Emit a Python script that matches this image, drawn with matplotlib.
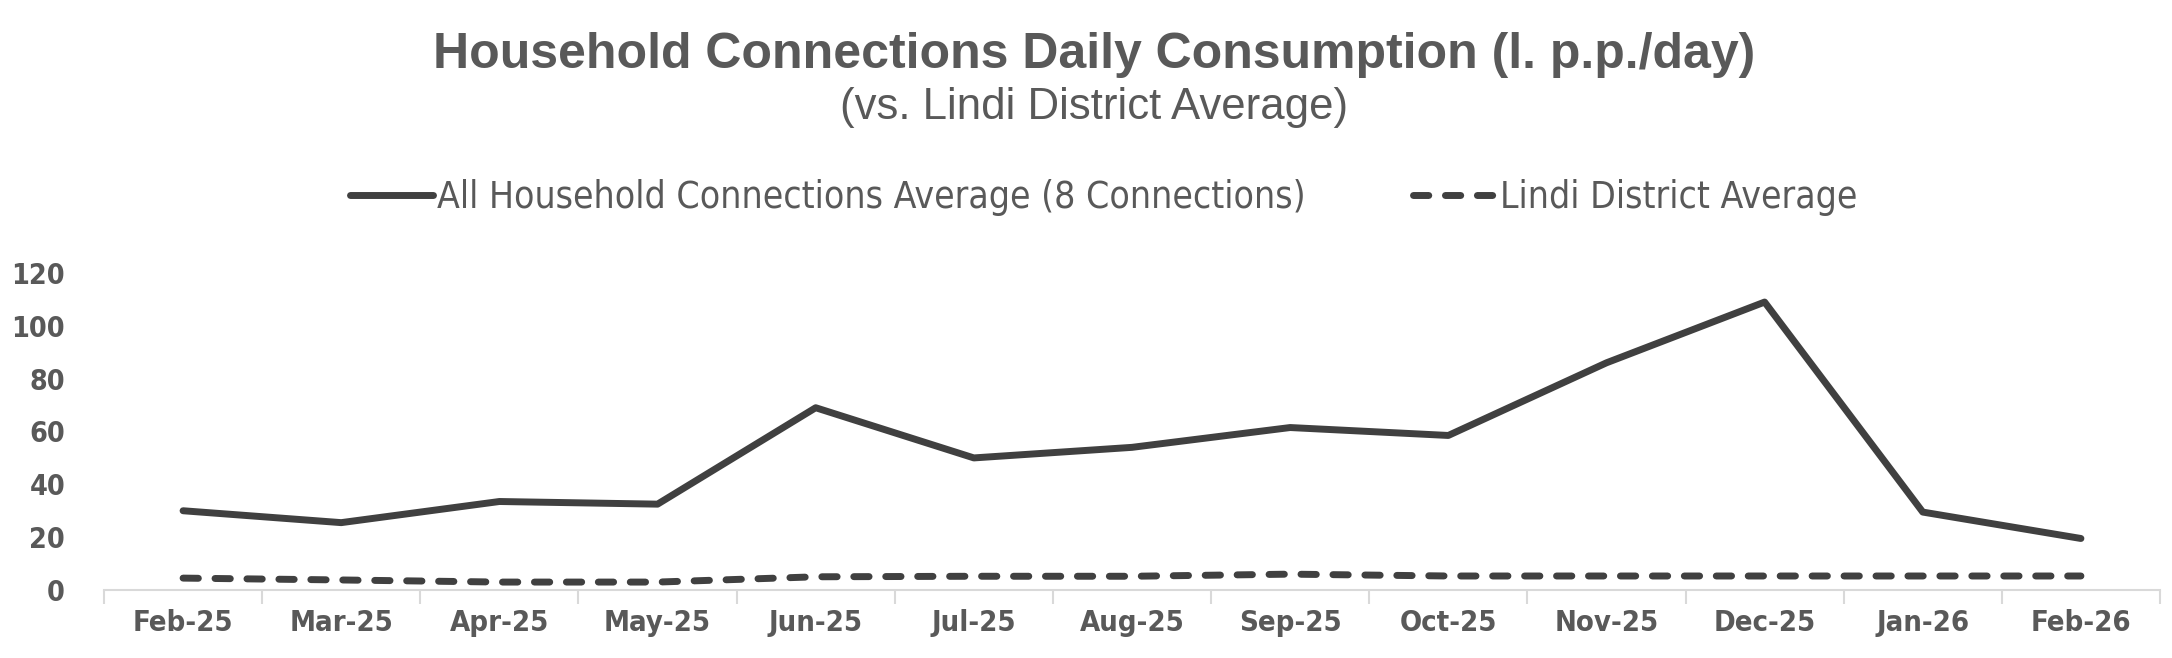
import matplotlib
matplotlib.use("Agg")
import matplotlib.pyplot as plt
from matplotlib import font_manager as fm

months = ["Feb-25", "Mar-25", "Apr-25", "May-25", "Jun-25", "Jul-25", "Aug-25",
          "Sep-25", "Oct-25", "Nov-25", "Dec-25", "Jan-26", "Feb-26"]
household_avg = [30, 25.5, 33.5, 32.5, 69, 50, 54, 61.5, 58.5, 86, 109, 29.5, 19.5]
lindi_avg = [4.5, 3.8, 3.0, 3.0, 5.0, 5.2, 5.2, 6.0, 5.3, 5.3, 5.3, 5.3, 5.3]
yticks = [0, 20, 40, 60, 80, 100, 120]


def find_font(keys, bold):
    for key in keys:
        for f in fm.fontManager.ttflist:
            fn = f.fname.lower()
            if key in fn and ("italic" not in fn and "oblique" not in fn):
                isb = "bold" in fn
                if isb == bold:
                    return f.fname
    return None


nb = find_font(["liberationsansnarrow", "sansnarrow", "opensans_condensed", "condensed"], True)
nr = find_font(["liberationsansnarrow", "sansnarrow", "opensans_condensed", "condensed"], False)


def fp(size, bold, narrow):
    path = (nb if bold else nr) if narrow else None
    if path:
        return fm.FontProperties(fname=path, size=size)
    return fm.FontProperties(family="Liberation Sans", weight="bold" if bold else "normal", size=size)


TXT = "#595959"
LINE = "#404040"

fig = plt.figure(figsize=(21.72, 6.58), dpi=100)
ax = fig.add_axes([104/2172, 1-590/658, (2160-104)/2172, (590-273)/658])

x = list(range(len(months)))
l1, = ax.plot(x, household_avg, color=LINE, lw=5, solid_capstyle="round",
              solid_joinstyle="round", label="All Household Connections Average (8 Connections)")
l2, = ax.plot(x, lindi_avg, color=LINE, lw=5, dash_capstyle="round",
              linestyle=(0, (2.2, 2.4)), label="Lindi District Average")

ax.set_xlim(-0.5, len(months) - 0.5)
ax.set_ylim(0, 120)
ax.set_yticks(yticks)
ax.set_yticklabels([str(v) for v in yticks], fontproperties=fp(20.5 if nb else 22, True, True), color=TXT)
ax.set_xticks(x)
ax.set_xticklabels(months, fontproperties=fp(21 if nb else 22, True, True), color=TXT)
ax.tick_params(axis="x", length=0, pad=14)
ax.tick_params(axis="y", length=0, pad=28)
ax.set_xticks([i - 0.5 for i in range(len(months) + 1)], minor=True)
ax.tick_params(axis="x", which="minor", length=10, width=1.5, color="#d9d9d9")
for s in ["top", "right", "left"]:
    ax.spines[s].set_visible(False)
ax.spines["bottom"].set_color("#d9d9d9")
ax.spines["bottom"].set_linewidth(1.5)

fig.text(1094/2172, 1-55/658, "Household Connections Daily Consumption (l. p.p./day)",
         ha="center", va="center", fontproperties=fp(36, True, False), color=TXT)
fig.text(790*1.385/2172, 1-108/658, "(vs. Lindi District Average)",
         ha="center", va="center", fontproperties=fp(31.5, False, False), color=TXT)

leg = fig.legend(handles=[l1, l2], loc="center", bbox_to_anchor=(797*1.385/2172, 1-197/658),
                 ncol=2, frameon=False, handlelength=2.25, handletextpad=0.1,
                 columnspacing=2.9, prop=fp(26.7 if nr else 27, False, True))
for t in leg.get_texts():
    t.set_color(TXT)

fig.savefig("out.png", dpi=100)
